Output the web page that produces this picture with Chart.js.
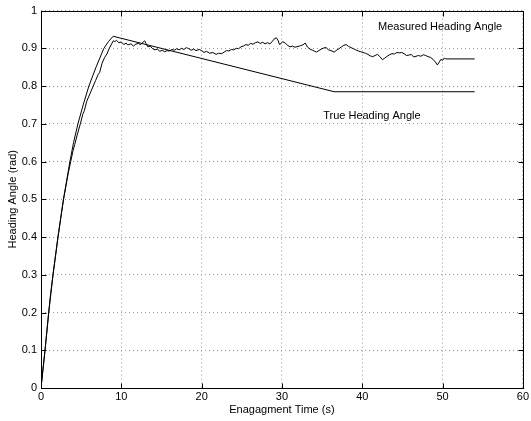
<!DOCTYPE html>
<html>
<head>
<meta charset="utf-8">
<script src="https://cdn.jsdelivr.net/npm/chart.js@4.4.1/dist/chart.umd.min.js"></script>
<style>
  html, body { margin: 0; padding: 0; background: #fff; }
  canvas { display: block; }
</style>
</head>
<body>
<canvas id="heading" width="531" height="421"></canvas>
<script>
// True heading angle: smooth rise, linear decay, then constant
const trueTime  = [0, 0.25, 0.5, 0.96, 1.2, 1.49, 1.8, 2.11, 2.45, 2.8, 3.2, 3.6, 4.05, 4.6, 5.25, 5.96, 6.85, 7.83, 8.4, 8.98, 36.5, 54];
const trueAngle = [0, 0.05, 0.1, 0.2, 0.25, 0.3, 0.35, 0.4, 0.45, 0.5, 0.55, 0.6, 0.65, 0.7, 0.75, 0.8, 0.85, 0.9, 0.918, 0.932, 0.785, 0.785];

// Measured heading angle (noisy estimate)
const measTime = [
  0, 0.5, 0.96, 1.5, 2.12, 2.8, 3.4, 3.7, 4.0, 4.2, 4.5, 4.9, 5.2, 5.4, 5.7, 6.1, 6.5, 6.8, 7.1, 7.3,
  7.6, 7.9, 8.2, 8.5, 8.8, 9.0, 9.2, 9.4, 9.7, 10.0, 10.3, 10.6, 10.8, 11.2, 11.5, 11.8, 12.1, 12.4, 12.7, 12.9,
  13.1, 13.3, 13.6, 13.9, 14.2, 14.5, 14.8, 15.1, 15.4, 15.7, 16.0, 16.3, 16.6, 16.9, 17.2, 17.5, 17.8, 18.1, 18.4, 18.7,
  19.0, 19.3, 19.7, 20.0, 20.3, 20.6, 21.0, 21.4, 21.8, 22.1, 22.5, 22.8, 23.1, 23.4, 23.7, 24.0, 24.3, 24.6, 24.9, 25.2,
  25.5, 25.8, 26.1, 26.4, 26.7, 27.0, 27.3, 27.6, 27.9, 28.2, 28.5, 28.8, 29.0, 29.3, 29.5, 29.7, 29.9, 30.1, 30.4, 30.7,
  31.0, 31.3, 31.6, 32.0, 32.3, 32.6, 32.9, 33.2, 33.5, 33.8, 34.1, 34.3, 34.6, 34.9, 35.2, 35.5, 35.8, 36.1, 36.5, 36.8,
  37.1, 37.4, 37.7, 38.0, 38.3, 38.6, 38.9, 39.2, 39.5, 39.8, 40.1, 40.4, 40.7, 41.0, 41.3, 41.6, 41.9, 42.2, 42.5, 42.8,
  43.1, 43.4, 43.7, 44.0, 44.3, 44.6, 44.9, 45.2, 45.5, 45.8, 46.1, 46.4, 46.7, 47.0, 47.3, 47.6, 47.9, 48.2, 48.5, 48.8,
  49.1, 49.35, 49.6, 49.8, 50.0, 50.2, 50.4, 54.0
];
const measAngle = [
  0, 0.1, 0.2, 0.3, 0.4, 0.5, 0.57, 0.6, 0.63, 0.645, 0.67, 0.7, 0.725, 0.735, 0.76, 0.78, 0.8, 0.815, 0.83, 0.836,
  0.86, 0.875, 0.885, 0.9, 0.912, 0.92, 0.918, 0.921, 0.915, 0.917, 0.91, 0.914, 0.909, 0.912, 0.906, 0.911, 0.913, 0.91, 0.916, 0.92,
  0.912, 0.904, 0.906, 0.899, 0.896, 0.898, 0.892, 0.895, 0.891, 0.894, 0.893, 0.897, 0.895, 0.899, 0.896, 0.9, 0.897, 0.902, 0.899, 0.895,
  0.898, 0.894, 0.897, 0.894, 0.889, 0.892, 0.887, 0.889, 0.884, 0.887, 0.886, 0.89, 0.894, 0.893, 0.897, 0.896, 0.9, 0.899, 0.904, 0.906,
  0.91, 0.908, 0.913, 0.911, 0.915, 0.917, 0.913, 0.916, 0.912, 0.915, 0.912, 0.918, 0.924, 0.928, 0.922, 0.91, 0.913, 0.918, 0.914, 0.908,
  0.904, 0.906, 0.903, 0.905, 0.907, 0.909, 0.914, 0.903, 0.898, 0.895, 0.892, 0.89, 0.894, 0.898, 0.901, 0.902, 0.896, 0.894, 0.89, 0.895,
  0.899, 0.904, 0.908, 0.91, 0.905, 0.902, 0.899, 0.896, 0.893, 0.891, 0.889, 0.887, 0.884, 0.88, 0.878, 0.881, 0.884, 0.878, 0.87, 0.874,
  0.879, 0.883, 0.886, 0.885, 0.889, 0.888, 0.889, 0.886, 0.881, 0.882, 0.884, 0.877, 0.879, 0.881, 0.879, 0.883, 0.881, 0.878, 0.876, 0.871,
  0.864, 0.856, 0.864, 0.871, 0.868, 0.874, 0.872, 0.872
];

const xTicks = [0, 10, 20, 30, 40, 50, 60];
const yTicks = [0, 0.1, 0.2, 0.3, 0.4, 0.5, 0.6, 0.7, 0.8, 0.9, 1];

// in-plot annotations, placed in data coordinates
const notes = [
  { text: "Measured Heading Angle", x: 49.7, y: 0.956 },
  { text: "True Heading Angle",     x: 41.2, y: 0.72 }
];

const FONT = "'Liberation Sans', Arial, Helvetica, sans-serif";

function toPoints(xs, ys) {
  return xs.map((x, i) => ({ x, y: ys[i] }));
}

// frame box, inward tick marks on all four sides, and text notes
const framePlugin = {
  id: "frame",
  afterDraw(chart) {
    const { ctx, chartArea: a, scales } = chart;
    const L = Math.round(a.left) + 0.5, R = Math.round(a.right) + 0.5;
    const T = Math.round(a.top) + 0.5,  B = Math.round(a.bottom) + 0.5;
    ctx.save();
    ctx.strokeStyle = "#000";
    ctx.lineWidth = 1;
    ctx.strokeRect(L, T, R - L, B - T);

    ctx.beginPath();
    xTicks.forEach(v => {
      const px = Math.round(scales.x.getPixelForValue(v)) + 0.5;
      ctx.moveTo(px, B); ctx.lineTo(px, B - 5);
      ctx.moveTo(px, T); ctx.lineTo(px, T + 5);
    });
    yTicks.forEach(v => {
      const py = Math.round(scales.y.getPixelForValue(v)) + 0.5;
      ctx.moveTo(L, py); ctx.lineTo(L + 5, py);
      ctx.moveTo(R, py); ctx.lineTo(R - 5, py);
    });
    ctx.stroke();

    ctx.fillStyle = "#000";
    ctx.font = "11px " + FONT;
    ctx.textAlign = "center";
    ctx.textBaseline = "middle";
    notes.forEach(n => {
      ctx.fillText(n.text, scales.x.getPixelForValue(n.x), scales.y.getPixelForValue(n.y));
    });
    ctx.restore();
  }
};

new Chart(document.getElementById("heading"), {
  type: "line",
  data: {
    datasets: [
      {
        label: "True Heading Angle",
        data: toPoints(trueTime, trueAngle),
        borderColor: "#000",
        borderWidth: 1,
        pointRadius: 0,
        tension: 0
      },
      {
        label: "Measured Heading Angle",
        data: toPoints(measTime, measAngle),
        borderColor: "#000",
        borderWidth: 1,
        pointRadius: 0,
        tension: 0
      }
    ]
  },
  options: {
    responsive: false,
    animation: false,
    devicePixelRatio: 1,
    layout: { padding: { top: 5, right: 7, left: 0, bottom: 0 } },
    plugins: {
      legend: { display: false },
      tooltip: { enabled: false }
    },
    scales: {
      x: {
        type: "linear",
        min: 0,
        max: 60,
        afterFit: s => { s.height = 33; },
        afterBuildTicks: s => { s.ticks = xTicks.map(v => ({ value: v })); },
        ticks: { color: "#000", padding: 2, maxRotation: 0, font: { family: FONT, size: 11 } },
        grid: { color: "#9a9a9a", drawTicks: false },
        border: { display: false, dash: [1, 3] },
        title: {
          display: true,
          text: "Enagagment Time (s)",
          color: "#000",
          font: { family: FONT, size: 11 },
          padding: { top: 0, bottom: 4 }
        }
      },
      y: {
        type: "linear",
        min: 0,
        max: 1,
        afterFit: s => { s.width = 41; },
        afterBuildTicks: s => { s.ticks = yTicks.map(v => ({ value: v })); },
        ticks: {
          color: "#000",
          padding: 4,
          font: { family: FONT, size: 11 },
          callback: v => String(+v.toFixed(1))
        },
        grid: { color: "#9a9a9a", drawTicks: false },
        border: { display: false, dash: [1, 3] },
        title: {
          display: true,
          text: "Heading Angle (rad)",
          color: "#000",
          font: { family: FONT, size: 11 },
          padding: { top: 6, bottom: 0 }
        }
      }
    }
  },
  plugins: [framePlugin]
});
</script>
</body>
</html>
